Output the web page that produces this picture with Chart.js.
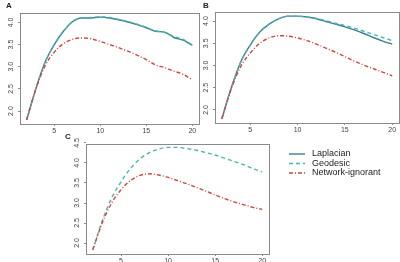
<!DOCTYPE html>
<html>
<head>
<meta charset="utf-8">
<script src="https://cdn.jsdelivr.net/npm/chart.js@4/dist/chart.umd.min.js"></script>
<style>
  html, body { margin: 0; padding: 0; background: #fff; }
  #wrap { position: relative; width: 400px; height: 262px; overflow: hidden; }
  canvas { position: absolute; }
</style>
</head>
<body>
<div id="wrap">
  <canvas id="panelA" style="left:0px;top:0px;width:200px;height:135px"></canvas>
  <canvas id="panelB" style="left:200px;top:0px;width:200px;height:135px"></canvas>
  <canvas id="panelC" style="left:60px;top:130px;width:340px;height:132px"></canvas>
</div>
<script>
// x = number of steps
const xVals = [2, 3, 4, 5, 6, 7, 8, 9, 10, 11, 12, 13, 14, 15, 16, 17, 18, 19, 20];

// panel A
const lapA = [1.80, 2.50, 3.10, 3.50, 3.80, 4.02, 4.10, 4.10, 4.12, 4.10, 4.06, 4.01, 3.95, 3.88, 3.80, 3.78, 3.66, 3.60, 3.48];
const geoA = [1.80, 2.50, 3.10, 3.50, 3.80, 4.02, 4.10, 4.11, 4.13, 4.11, 4.07, 4.02, 3.96, 3.89, 3.81, 3.77, 3.68, 3.62, 3.49];
const netA = [1.80, 2.50, 3.02, 3.33, 3.52, 3.62, 3.65, 3.63, 3.57, 3.50, 3.43, 3.35, 3.26, 3.16, 3.04, 2.98, 2.90, 2.83, 2.70];

// panel B
const lapB = [1.80, 2.50, 3.08, 3.46, 3.75, 3.93, 4.05, 4.11, 4.11, 4.09, 4.05, 3.99, 3.93, 3.87, 3.80, 3.72, 3.63, 3.55, 3.48];
const geoB = [1.80, 2.50, 3.08, 3.46, 3.75, 3.93, 4.05, 4.11, 4.11, 4.09, 4.06, 4.01, 3.95, 3.90, 3.84, 3.77, 3.70, 3.63, 3.56];
const netB = [1.80, 2.48, 2.98, 3.28, 3.50, 3.62, 3.67, 3.66, 3.62, 3.56, 3.48, 3.39, 3.30, 3.20, 3.10, 3.01, 2.93, 2.85, 2.77];

// panel C (no Laplacian curve)
const geoC = [1.83, 2.55, 3.12, 3.53, 3.86, 4.10, 4.26, 4.35, 4.39, 4.39, 4.36, 4.32, 4.26, 4.20, 4.12, 4.04, 3.96, 3.86, 3.78];
const netC = [1.83, 2.50, 3.00, 3.33, 3.56, 3.69, 3.73, 3.70, 3.64, 3.56, 3.48, 3.39, 3.30, 3.20, 3.11, 3.03, 2.96, 2.89, 2.84];

const xTicks = [5, 10, 15, 20];
const yTicksAB = [2.0, 2.5, 3.0, 3.5, 4.0];
const yTicksC = [2.0, 2.5, 3.0, 3.5, 4.0, 4.5];

const seriesNames = ['Laplacian', 'Geodesic', 'Network-ignorant'];

const styles = {
  Laplacian: { color: '#3d7f8f', dash: [] , order: 2 },
  Geodesic: { color: '#4bb5ad', dash: [4, 3], order: 1 },
  'Network-ignorant': { color: '#d2463c', dash: [4, 2, 1, 2], order: 0 }
};

const axisGray = '#8a8a8a';
const tickFont = { family: 'Liberation Sans, Arial, sans-serif', size: 7 };

function series(name, values) {
  const s = styles[name];
  return {
    label: name,
    data: xVals.map((x, i) => ({ x: x, y: values[i] })),
    borderColor: s.color,
    backgroundColor: s.color,
    borderDash: s.dash,
    borderWidth: 1.4,
    pointRadius: 0,
    cubicInterpolationMode: 'monotone',
    order: s.order
  };
}

// box around the plot region plus the panel letter
const panelDecor = {
  id: 'panelDecor',
  afterDraw(chart, args, opts) {
    const { ctx, chartArea } = chart;
    ctx.save();
    ctx.strokeStyle = axisGray;
    ctx.lineWidth = 1;
    ctx.strokeRect(Math.round(chartArea.left) + 0.5, Math.round(chartArea.top) + 0.5,
      Math.round(chartArea.width), Math.round(chartArea.height));
    ctx.fillStyle = '#222';
    ctx.font = 'bold 8px Liberation Sans, Arial, sans-serif';
    ctx.textBaseline = 'middle';
    ctx.textAlign = 'left';
    ctx.fillText(opts.letter, opts.lx, opts.ly);
    ctx.restore();
  }
};

// legend drawn next to panel C
const sideLegend = {
  id: 'sideLegend',
  afterDraw(chart, args, opts) {
    if (!opts.show) return;
    const { ctx } = chart;
    ctx.save();
    ctx.font = '9px Liberation Sans, Arial, sans-serif';
    ctx.textBaseline = 'middle';
    seriesNames.forEach((name, i) => {
      const s = styles[name];
      const y = opts.y + i * 9.5;
      ctx.strokeStyle = s.color;
      ctx.lineWidth = 1.4;
      ctx.setLineDash(s.dash);
      ctx.beginPath();
      ctx.moveTo(opts.x, y);
      ctx.lineTo(opts.x + 16, y);
      ctx.stroke();
      ctx.setLineDash([]);
      ctx.fillStyle = '#222';
      ctx.fillText(name, opts.x + 23, y);
    });
    ctx.restore();
  }
};

function makePanel(id, cfg) {
  const canvas = document.getElementById(id);
  canvas.width = parseInt(canvas.style.width);
  canvas.height = parseInt(canvas.style.height);
  return new Chart(canvas, {
    type: 'line',
    data: { datasets: cfg.datasets },
    plugins: [panelDecor, sideLegend],
    options: {
      responsive: false,
      animation: false,
      devicePixelRatio: 1,
      layout: { padding: cfg.padding },
      plugins: {
        legend: { display: false },
        tooltip: { enabled: false },
        panelDecor: cfg.decor,
        sideLegend: cfg.legend || { show: false }
      },
      scales: {
        x: {
          type: 'linear',
          min: 1.28,
          max: 20.72,
          afterBuildTicks: (axis) => { axis.ticks = xTicks.map(v => ({ value: v })); },
          afterFit: (axis) => { axis.height = cfg.xHeight; },
          border: { display: true, color: axisGray },
          grid: { drawOnChartArea: false, drawTicks: true, tickLength: 2, color: axisGray },
          ticks: { color: '#444', font: tickFont, padding: 1, maxRotation: 0 }
        },
        y: {
          min: cfg.yMin,
          max: cfg.yMax,
          afterBuildTicks: (axis) => { axis.ticks = cfg.yTicks.map(v => ({ value: v })); },
          afterFit: (axis) => { axis.width = cfg.yWidth; },
          border: { display: true, color: axisGray },
          grid: { drawOnChartArea: false, drawTicks: true, tickLength: 2, color: axisGray },
          ticks: {
            color: '#444',
            font: tickFont,
            padding: 2,
            minRotation: 90,
            maxRotation: 90,
            crossAlign: 'center',
            callback: (v) => Number(v).toFixed(1)
          }
        }
      }
    }
  });
}

makePanel('panelA', {
  datasets: [series('Laplacian', lapA), series('Geodesic', geoA), series('Network-ignorant', netA)],
  padding: { top: 13, right: 1, left: 0, bottom: 0 },
  xHeight: 11, yWidth: 20,
  yMin: 1.707, yMax: 4.213, yTicks: yTicksAB,
  decor: { letter: 'A', lx: 6, ly: 6 }
});

makePanel('panelB', {
  datasets: [series('Laplacian', lapB), series('Geodesic', geoB), series('Network-ignorant', netB)],
  padding: { top: 12, right: 1, left: 0, bottom: 0 },
  xHeight: 12, yWidth: 15,
  yMin: 1.707, yMax: 4.203, yTicks: yTicksAB,
  decor: { letter: 'B', lx: 3, ly: 6 }
});

makePanel('panelC', {
  datasets: [series('Geodesic', geoC), series('Network-ignorant', netC)],
  padding: { top: 14, right: 131, left: 0, bottom: 0 },
  xHeight: 8, yWidth: 26,
  yMin: 1.725, yMax: 4.475, yTicks: yTicksC,
  decor: { letter: 'C', lx: 5, ly: 7 },
  legend: { show: true, x: 229, y: 24 }
});
</script>
</body>
</html>
